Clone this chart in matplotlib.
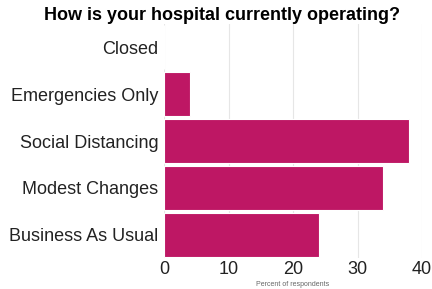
import matplotlib.pyplot as plt

# survey answers, top to bottom
categories = ["Closed", "Emergencies Only", "Social Distancing", "Modest Changes", "Business As Usual"]
percent = [0, 4, 38, 34, 24]
xticks = [0, 10, 20, 30, 40]

plt.rcParams['font.family'] = ['Liberation Sans', 'DejaVu Sans']

fig = plt.figure(figsize=(4.32, 2.89), dpi=100)
ax = fig.add_axes([0.380, 0.107, 0.597, 0.810])

ypos = list(range(len(categories)))
ax.barh(ypos, percent, height=0.94, color="#BE1764", edgecolor="white", linewidth=0.8, zorder=3)

ax.set_ylim(len(categories) - 0.5, -0.5)
ax.set_xlim(0, 40)
ax.set_yticks(ypos)
ax.set_yticklabels(categories, fontsize=13, color="#222222")
ax.set_xticks(xticks)
ax.set_xticklabels([str(t) for t in xticks], fontsize=13, color="#222222")
ax.tick_params(length=0, pad=4)
ax.tick_params(axis="x", pad=2)

ax.grid(axis="x", color="#e6e6e6", linewidth=0.8, zorder=0)
for s in ax.spines.values():
    s.set_visible(False)

ax.set_xlabel("Percent of respondents", fontsize=5, color="#666666", labelpad=2)
fig.suptitle("How is your hospital currently operating?", fontsize=13, fontweight="bold", x=0.515, y=0.975)

fig.savefig("out.png", dpi=100)
